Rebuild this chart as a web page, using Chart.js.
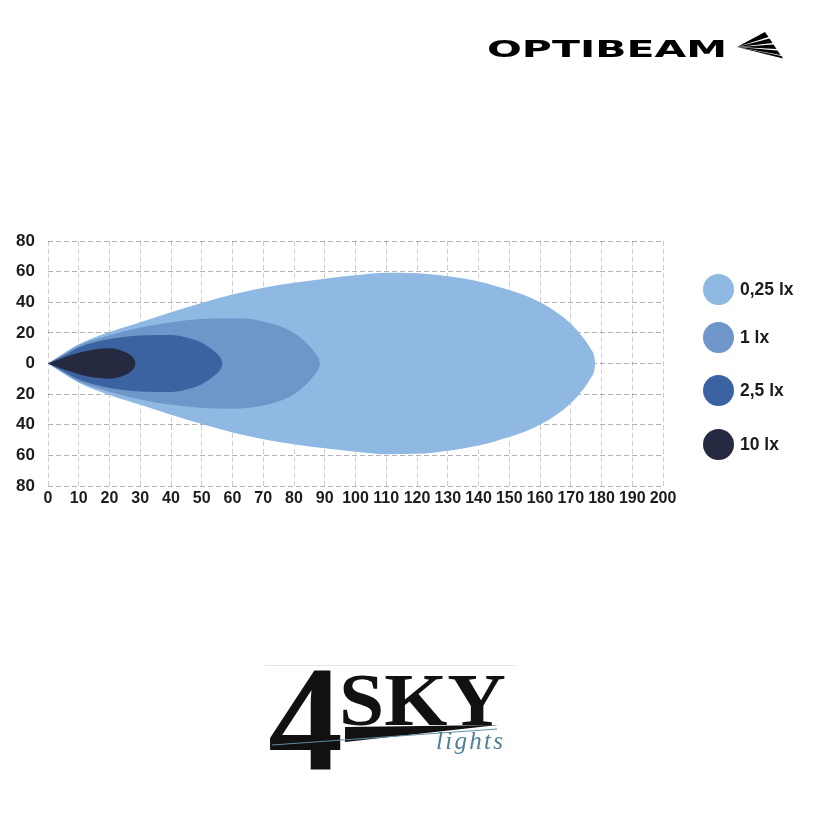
<!DOCTYPE html>
<html>
<head>
<meta charset="utf-8">
<script src="https://cdn.jsdelivr.net/npm/chart.js@4.4.1/dist/chart.umd.min.js"></script>
<style>
  html, body { margin: 0; padding: 0; background: #ffffff; }
  #wrap { position: relative; width: 818px; height: 826px; overflow: hidden; background: #fff; }
  #chart { position: absolute; left: 0; top: 0; }
  .lg-item { position: absolute; left: 703px; height: 31px; display: flex; align-items: center;
             font-family: "Liberation Sans Narrow", "Liberation Sans", sans-serif; font-weight: bold;
             font-size: 17.5px; color: #1c1c1c; }
  .lg-dot { width: 31px; height: 31px; border-radius: 50%; margin-right: 6px; }
  svg.logo { position: absolute; left: 0; top: 0; }
</style>
</head>
<body>
<div id="wrap">
  <canvas id="chart" width="818" height="826"></canvas>
  <div id="legend"></div>
  <svg class="logo" width="818" height="826" viewBox="0 0 818 826">
    <!-- OPTIBEAM wordmark -->
    <text x="487" y="57" font-family="DejaVu Sans" font-weight="bold" font-size="23" textLength="240" lengthAdjust="spacingAndGlyphs" fill="#000">OPTIBEAM</text>
    <g fill="#000">
      <polygon points="737,47 765,32 768.5,37"/>
      <polygon points="737,47 769.5,38.5 772.5,43"/>
      <polygon points="737,47 773.5,44.5 776.5,49"/>
      <polygon points="737,47 777.5,50.5 780.5,55"/>
      <polygon points="737,47 781.5,56 783,58.5"/>
    </g>
    <!-- 4SKY lights logo -->
    <line x1="265" y1="665.5" x2="515" y2="665.5" stroke="#e4e4e4" stroke-width="1"/>
    <text x="268" y="770" font-family="Liberation Serif" font-weight="bold" font-size="150" fill="#111">4</text>
    <polygon points="345,727 498,725 345,742" fill="#111"/>
    <line x1="272" y1="745" x2="497" y2="729" stroke="#5d8ea3" stroke-width="1"/>
    <text x="339" y="725" font-family="Liberation Serif" font-weight="bold" font-size="75" textLength="167" lengthAdjust="spacingAndGlyphs" fill="#111">SKY</text>
    <text x="436" y="749" font-family="Liberation Serif" font-style="italic" font-size="25" textLength="67" lengthAdjust="spacing" fill="#4f8096">lights</text>
  </svg>
</div>
<script>
// ---- data (metres) ----
const seriesLabels = ['0,25 lx', '1 lx', '2,5 lx', '10 lx'];
const seriesColors = ['#8fb9e3', '#6f96c9', '#3b63a2', '#262a41'];

// upper half-width of each isolux beam at distance x (beam is symmetric about the 0 line)
const beam025X = [0, 5, 10, 20, 30, 40, 50, 60, 70, 80, 90, 100, 110, 120, 130, 140, 150, 155, 160, 165, 170, 174, 176.5, 177.6, 178];
const beam025Y = [0, 6.5, 12.5, 20.5, 27, 33.5, 39.5, 45, 49.4, 52.7, 55.4, 57.6, 59.2, 59, 57, 53.6, 48, 44.5, 40, 34, 26, 17, 9.5, 5, 0];

const beam1X = [0, 5, 10, 20, 30, 40, 50, 60, 70, 80, 84.5, 86.8, 88, 88.5];
const beam1Y = [0, 6, 11.8, 18.5, 23.5, 27, 29, 29.5, 27.5, 20, 12.5, 7, 3.5, 0];

const beam25X = [0, 5, 10, 20, 30, 40, 45, 50, 54, 56, 56.5, 56.8];
const beam25Y = [0, 5, 10.5, 16, 18.3, 18.6, 17, 13.5, 8, 4, 2, 0];

const beam10X = [0, 5, 10, 15, 20, 25, 27.5, 28.2, 28.5];
const beam10Y = [0, 3.8, 7, 9.2, 9.9, 7.5, 4.2, 2, 0];

const xTickValues = [0,10,20,30,40,50,60,70,80,90,100,110,120,130,140,150,160,170,180,190,200];
const xTickLabels = ['0','10','20','30','40','50','60','70','80','90','100','110','120','130','140','150','160','170','180','190','200'];
const yTickValues = [80, 60, 40, 20, 0, -20, -40, -60, -80];
const yTickLabels = ['80','60','40','20','0','20','40','60','80'];

// ---- datasets: upper edge filled down to the mirrored lower edge ----
const beams = [[beam025X, beam025Y], [beam1X, beam1Y], [beam25X, beam25Y], [beam10X, beam10Y]];
const datasets = [];
beams.forEach((b, i) => {
  const common = {
    showLine: true,
    borderColor: seriesColors[i],
    backgroundColor: seriesColors[i],
    borderWidth: 0,
    pointRadius: 0,
    cubicInterpolationMode: 'monotone',
    order: beams.length - i
  };
  datasets.push(Object.assign({
    label: seriesLabels[i],
    data: b[0].map((x, k) => ({ x: x, y: b[1][k] })),
    fill: '+1'
  }, common));
  datasets.push(Object.assign({
    label: seriesLabels[i] + ' (lower)',
    data: b[0].map((x, k) => ({ x: x, y: -b[1][k] })),
    fill: false
  }, common));
});

const tickFont = { family: '"Liberation Sans Narrow", "Liberation Sans", sans-serif', weight: 'bold' };

new Chart(document.getElementById('chart'), {
  type: 'scatter',
  data: { datasets: datasets },
  options: {
    responsive: false,
    animation: false,
    events: [],
    layout: { padding: { left: 8, right: 155, top: 241, bottom: 310 } },
    plugins: { legend: { display: false }, tooltip: { enabled: false } },
    scales: {
      x: {
        type: 'linear', min: 0, max: 200, z: 1,
        afterBuildTicks: s => { s.ticks = xTickValues.map(v => ({ value: v })); },
        afterFit: s => { s.height = 30; },
        grid: { color: 'rgba(0,0,0,0.2)', lineWidth: 1, drawTicks: false },
        border: { display: false, dash: [5, 3] },
        ticks: {
          autoSkip: false, maxRotation: 0, padding: 3, color: '#1c1c1c',
          font: Object.assign({ size: 16 }, tickFont),
          callback: v => xTickLabels[xTickValues.indexOf(v)]
        }
      },
      y: {
        type: 'linear', min: -80, max: 80, z: 1,
        afterBuildTicks: s => { s.ticks = yTickValues.map(v => ({ value: v })); },
        afterFit: s => { s.width = 40; },
        grid: { color: 'rgba(0,0,0,0.3)', lineWidth: 1, drawTicks: false },
        border: { display: false, dash: [5, 3] },
        ticks: {
          padding: 13, color: '#1c1c1c',
          font: Object.assign({ size: 17 }, tickFont),
          callback: v => yTickLabels[yTickValues.indexOf(v)]
        }
      }
    }
  }
});

// ---- legend ----
const legendTops = [274, 322, 375, 429];
const legendEl = document.getElementById('legend');
seriesLabels.forEach((lab, i) => {
  const item = document.createElement('div');
  item.className = 'lg-item';
  item.style.top = legendTops[i] + 'px';
  const dot = document.createElement('div');
  dot.className = 'lg-dot';
  dot.style.background = seriesColors[i];
  const txt = document.createElement('span');
  txt.textContent = lab;
  item.appendChild(dot);
  item.appendChild(txt);
  legendEl.appendChild(item);
});
</script>
</body>
</html>
